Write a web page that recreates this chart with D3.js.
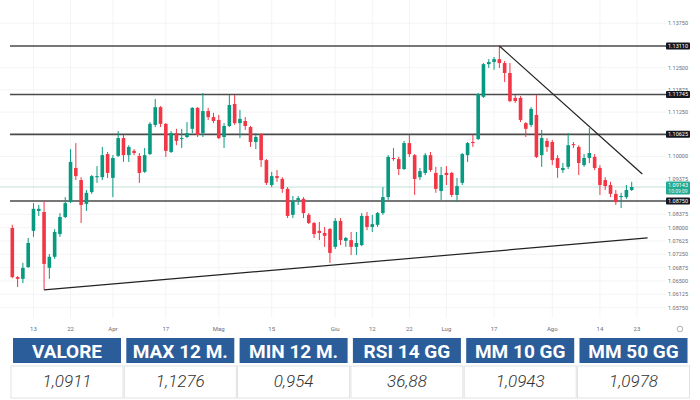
<!DOCTYPE html>
<html><head><meta charset="utf-8">
<script src="https://cdn.jsdelivr.net/npm/d3@7"></script>
<style>body{margin:0;background:#fff}svg{display:block}</style>
</head><body><svg id="c" width="700" height="400"></svg>
<script>
const dates = ["03-07","03-08","03-09","03-10","03-13","03-14","03-15","03-16","03-17","03-20","03-21","03-22","03-23","03-24","03-27","03-28","03-29","03-30","03-31",
"04-03","04-04","04-05","04-06","04-07","04-10","04-11","04-12","04-13","04-14","04-17","04-18","04-19","04-20","04-21","04-24","04-25","04-26","04-27","04-28",
"05-01","05-02","05-03","05-04","05-05","05-08","05-09","05-10","05-11","05-12","05-15","05-16","05-17","05-18","05-19","05-22","05-23","05-24","05-25","05-26","05-30","05-31",
"06-01","06-02","06-05","06-06","06-07","06-08","06-09","06-12","06-13","06-14","06-15","06-16","06-20","06-21","06-22","06-23","06-26","06-27","06-28","06-29","06-30",
"07-03","07-05","07-06","07-07","07-10","07-11","07-12","07-13","07-14","07-17","07-18","07-19","07-20","07-21","07-24","07-25","07-26","07-27","07-28","07-31",
"08-01","08-02","08-03","08-04","08-07","08-08","08-09","08-10","08-11","08-14","08-15","08-16","08-17","08-18","08-21","08-22"];
const opens = [1.0799,1.0661,1.0656,1.0689,1.0791,1.0847,1.0844,1.0687,1.0718,1.0782,1.0830,1.0872,1.0968,1.0934,1.0867,1.0900,1.0942,1.0942,1.1007,
1.0940,1.1002,1.1052,1.1004,1.1016,1.1002,1.0957,1.1007,1.1089,1.1139,1.1092,1.1013,1.1066,1.1049,1.1055,1.1078,1.1137,1.1066,1.1128,1.1111,
1.1103,1.1055,1.1086,1.1148,1.1094,1.1100,1.1083,1.1041,1.1063,1.0990,1.0920,1.0945,1.0937,1.0909,1.0836,1.0878,1.0881,1.0836,1.0813,1.0791,1.0785,1.0796,
1.0746,1.0819,1.0763,1.0765,1.0746,1.0751,1.0833,1.0802,1.0808,1.0841,1.0886,1.0996,1.0993,1.0965,1.1038,1.1004,1.0942,1.0954,1.1004,1.0954,1.0903,
1.0954,1.0954,1.0892,1.0926,1.1004,1.1041,1.1049,1.1168,1.1260,1.1266,1.1274,1.1263,1.1235,1.1165,1.1165,1.1094,1.1089,1.1117,1.1004,1.1044,
1.1041,1.0996,1.0962,1.0971,1.1035,1.1027,1.0976,1.0996,1.0999,1.0968,1.0934,1.0920,1.0895,1.0886,1.0886,1.0906];
const highs = [1.0808,1.0664,1.0701,1.0771,1.0869,1.0864,1.0875,1.0726,1.0796,1.0841,1.0886,1.1021,1.1038,1.0942,1.0906,1.0948,1.0973,1.1027,1.1013,
1.1004,1.1072,1.1061,1.1032,1.1021,1.1010,1.1024,1.1097,1.1162,1.1142,1.1094,1.1072,1.1078,1.1078,1.1097,1.1139,1.1139,1.1179,1.1137,1.1123,
1.1117,1.1094,1.1173,1.1173,1.1131,1.1111,1.1086,1.1066,1.1066,1.0993,1.0957,1.0962,1.0942,1.0914,1.0889,1.0889,1.0886,1.0841,1.0816,1.0816,1.0802,1.0799,
1.0827,1.0827,1.0774,1.0788,1.0788,1.0841,1.0844,1.0836,1.0844,1.0914,1.1004,1.1024,1.0999,1.1044,1.1061,1.1007,1.0968,1.1010,1.1013,1.0971,1.0971,
1.0973,1.0957,1.0940,1.1010,1.1041,1.1061,1.1179,1.1263,1.1274,1.1280,1.1311,1.1269,1.1263,1.1173,1.1170,1.1097,1.1139,1.1173,1.1075,1.1052,
1.1047,1.1004,1.0982,1.1066,1.1041,1.1032,1.1007,1.1080,1.1007,1.0976,1.0942,1.0929,1.0906,1.0898,1.0920,1.0929];
const lows = [1.0658,1.0633,1.0644,1.0687,1.0774,1.0833,1.0625,1.0656,1.0712,1.0774,1.0827,1.0869,1.0934,1.0813,1.0847,1.0895,1.0926,1.0934,1.0940,
1.0886,1.0999,1.0985,1.0985,1.1004,1.0926,1.0954,1.1004,1.1083,1.1083,1.0999,1.1010,1.1032,1.1024,1.1052,1.1066,1.1055,1.1055,1.1103,1.1094,
1.1049,1.1024,1.1083,1.1089,1.1052,1.1075,1.1027,1.1021,1.0971,1.0920,1.0914,1.0929,1.0898,1.0827,1.0827,1.0864,1.0827,1.0810,1.0771,1.0765,1.0746,1.0701,
1.0740,1.0751,1.0746,1.0723,1.0723,1.0748,1.0793,1.0788,1.0802,1.0836,1.0878,1.0988,1.0948,1.0962,1.0999,1.0892,1.0934,1.0948,1.0957,1.0898,1.0878,
1.0920,1.0886,1.0872,1.0920,1.0985,1.1027,1.1047,1.1165,1.1249,1.1244,1.1249,1.1210,1.1153,1.1151,1.1097,1.1055,1.1083,1.0996,1.0971,1.1013,
1.0976,1.0940,1.0954,1.0965,1.1024,1.0948,1.0971,1.0982,1.0962,1.0892,1.0906,1.0886,1.0864,1.0855,1.0881,1.0903];
const closes = [1.0661,1.0656,1.0687,1.0757,1.0853,1.0853,1.0698,1.0718,1.0788,1.0830,1.0869,1.0985,1.0945,1.0864,1.0898,1.0945,1.0945,1.1004,1.0954,
1.0996,1.1052,1.1004,1.1027,1.1010,1.0954,1.1004,1.1092,1.1139,1.1092,1.1016,1.1066,1.1044,1.1052,1.1066,1.1137,1.1061,1.1128,1.1111,1.1100,
1.1052,1.1086,1.1145,1.1094,1.1106,1.1086,1.1041,1.1055,1.0990,1.0926,1.0945,1.0940,1.0909,1.0833,1.0875,1.0883,1.0841,1.0813,1.0782,1.0785,1.0777,1.0729,
1.0819,1.0765,1.0771,1.0746,1.0757,1.0833,1.0802,1.0810,1.0841,1.0886,1.0999,1.0993,1.0965,1.1038,1.1007,1.0937,1.0959,1.1004,1.0962,1.0909,1.0948,
1.0948,1.0892,1.0917,1.1007,1.1038,1.1038,1.1176,1.1260,1.1266,1.1274,1.1263,1.1235,1.1156,1.1156,1.1103,1.1078,1.1134,1.0999,1.1052,1.1027,
1.0990,1.0968,1.0968,1.1032,1.1032,1.0982,1.0996,1.1010,1.0968,1.0920,1.0917,1.0895,1.0872,1.0889,1.0906,1.09143];

const priceTicks = [1.13750,1.12500,1.11875,1.11250,1.10000,1.09375,1.08375,1.08000,1.07625,1.07250,1.06875,1.06500,1.06125,1.05750];
const levels = [1.13110,1.11745,1.10625,1.08750];
const lastPrice = 1.09143;
const countdown = "10:09:09";
const xTickDates = ["03-13","03-22","04-03","04-17","05-01","05-15","06-01","06-12","06-22","07-03","07-17","08-01","08-14","08-23"];
const xTickLabels = ["13","22","Apr","17","Mag","15","Giu","12","22","Lug","17","Ago","14","23"];
const supportIdx = [6,120], supportPx = [1.0625,1.0771];
const resistIdx = [92,119], resistPx = [1.1311,1.0951];
const tableHeads = ["VALORE","MAX 12 M.","MIN 12 M.","RSI 14 GG","MM 10 GG","MM 50 GG"];
const tableVals = ["1,0911","1,1276","0,954","36,88","1,0943","1,0978"];

const svg = d3.select("#c");
svg.append("rect").attr("width",700).attr("height",400).attr("fill","#fff");

const x = d3.scaleLinear().domain([0, dates.length-1]).range([12.3, 631.7]);
const y = d3.scaleLinear().domain([1.13110, 1.08750]).range([46, 201]);
const idxOf = d => { const i = dates.indexOf(d); return i >= 0 ? i : dates.length + (xTickDates.indexOf(d) === xTickDates.length-1 ? 0 : 0); };

const plotR = 666, axX = 678, up = "#089981", dn = "#f23645";

// faint grid
svg.append("g").selectAll("line").data(xTickDates).join("line")
  .attr("x1", d=>x(idxOf(d))).attr("x2", d=>x(idxOf(d))).attr("y1",0).attr("y2",318)
  .attr("stroke","#f3f4f6").attr("stroke-width",1);
svg.append("g").selectAll("line").data(priceTicks).join("line")
  .attr("x1",0).attr("x2",plotR).attr("y1",d=>y(d)).attr("y2",d=>y(d))
  .attr("stroke","#f3f4f6").attr("stroke-width",1);

// current price line
svg.append("line").attr("x1",0).attr("x2",plotR).attr("y1",y(lastPrice)).attr("y2",y(lastPrice))
  .attr("stroke","#bfe0da").attr("stroke-width",1);

// levels
svg.append("g").selectAll("line").data(levels).join("line")
  .attr("x1",10).attr("x2",plotR).attr("y1",d=>y(d)).attr("y2",d=>y(d))
  .attr("stroke","#4a4a4a").attr("stroke-width",1.6);

// candles
const idx = d3.range(dates.length);
const cg = svg.append("g");
cg.selectAll("line").data(idx).join("line")
  .attr("x1",i=>x(i)).attr("x2",i=>x(i))
  .attr("y1",i=>y(highs[i])).attr("y2",i=>y(lows[i]))
  .attr("stroke",i=>closes[i]>=opens[i]?up:dn).attr("stroke-width",1);
cg.selectAll("rect").data(idx).join("rect")
  .attr("x",i=>x(i)-1.8).attr("width",3.6)
  .attr("y",i=>Math.min(y(opens[i]),y(closes[i])))
  .attr("height",i=>Math.max(1,Math.abs(y(opens[i])-y(closes[i]))))
  .attr("fill",i=>closes[i]>=opens[i]?up:dn);

// trendlines
svg.append("line").attr("x1",x(supportIdx[0])).attr("y1",y(supportPx[0]))
  .attr("x2",x(supportIdx[1])).attr("y2",y(supportPx[1])).attr("stroke","#222").attr("stroke-width",1.2);
svg.append("line").attr("x1",x(resistIdx[0])).attr("y1",y(resistPx[0]))
  .attr("x2",x(resistIdx[1])).attr("y2",y(resistPx[1])).attr("stroke","#222").attr("stroke-width",1.2);

// price axis labels
const fmt = d3.format(".5f");
svg.append("g").selectAll("text").data(priceTicks).join("text")
  .attr("x",axX).attr("y",d=>y(d)).attr("dy","0.35em").attr("text-anchor","middle")
  .attr("font-family","Roboto, sans-serif").attr("font-size",5.5).attr("fill","#6a6d78").text(d=>fmt(d));
const lg = svg.append("g").selectAll("g").data(levels).join("g");
lg.append("rect").attr("x",plotR).attr("width",24).attr("y",d=>y(d)-3.5).attr("height",7).attr("rx",1).attr("fill","#131722");
lg.append("text").attr("x",axX).attr("y",d=>y(d)).attr("dy","0.35em").attr("text-anchor","middle")
  .attr("font-family","Roboto, sans-serif").attr("font-size",5.5).attr("fill","#fff").text(d=>fmt(d));
svg.append("rect").attr("x",plotR).attr("width",24).attr("y",y(lastPrice)-5.5).attr("height",13).attr("rx",1).attr("fill","#22ab94");
svg.append("text").attr("x",axX).attr("y",y(lastPrice)-1.5).attr("dy","0.35em").attr("text-anchor","middle")
  .attr("font-family","Roboto, sans-serif").attr("font-size",5.5).attr("fill","#fff").text(fmt(lastPrice));
svg.append("text").attr("x",axX).attr("y",y(lastPrice)+4).attr("dy","0.35em").attr("text-anchor","middle")
  .attr("font-family","Roboto, sans-serif").attr("font-size",5).attr("fill","#e8f6f3").text(countdown);

// x axis labels
svg.append("g").selectAll("text").data(xTickDates).join("text")
  .attr("x",d=>x(idxOf(d))).attr("y",331).attr("text-anchor","middle")
  .attr("font-family","Roboto, sans-serif").attr("font-size",6).attr("fill","#6a6d78")
  .text((d,i)=>xTickLabels[i]);
svg.append("circle").attr("cx",680).attr("cy",329).attr("r",2.8).attr("fill","none").attr("stroke","#9a9ca3").attr("stroke-width",0.8);

// table
const cellX = d3.scaleLinear().domain([0,5]).range([13,579.5]);
const cw = 108;
const tg = svg.append("g").selectAll("g").data(tableHeads).join("g");
tg.append("rect").attr("x",(d,i)=>cellX(i)).attr("y",338).attr("width",cw).attr("height",25).attr("fill","#2c5d9b");
tg.append("text").attr("x",(d,i)=>cellX(i)+cw/2).attr("y",357.5).attr("text-anchor","middle")
  .attr("font-family","Roboto, sans-serif").attr("font-weight",700).attr("font-size",19).attr("fill","#fff").text(d=>d);
tg.append("rect").attr("x",(d,i)=>cellX(i)-2).attr("y",366).attr("width",cw+4).attr("height",32)
  .attr("fill","#fff").attr("stroke","#e2e2e2").attr("stroke-width",1);
tg.append("text").attr("x",(d,i)=>cellX(i)+cw/2).attr("y",387).attr("text-anchor","middle")
  .attr("font-family","Roboto, sans-serif").attr("font-style","italic").attr("font-weight",300).attr("font-size",17).attr("fill","#333")
  .text((d,i)=>tableVals[i]);
</script></body></html>
